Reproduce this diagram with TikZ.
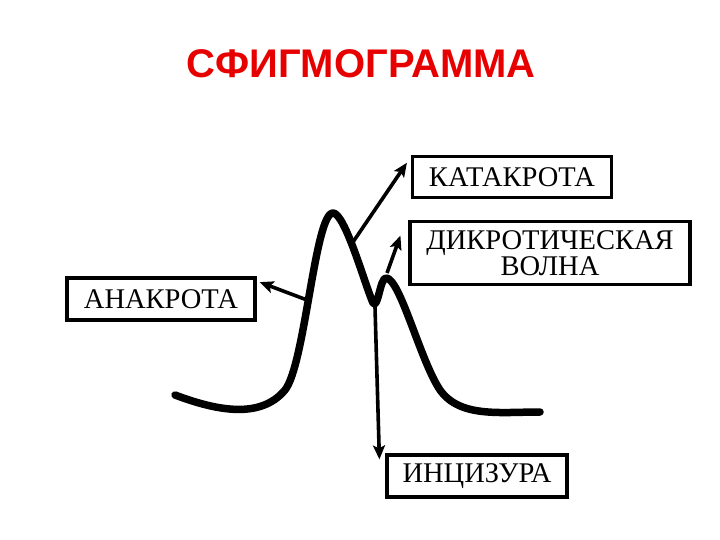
\documentclass[tikz,border=0pt]{standalone}
\usepackage{fontspec}
\setmainfont{Liberation Serif}
\newfontfamily\titlefont{Liberation Sans}
\usetikzlibrary{arrows.meta}
\definecolor{titlered}{RGB}{230,0,0}

\begin{document}
\begin{tikzpicture}[x=1pt,y=-1pt,
    >={Stealth[length=14pt,width=12pt,inset=3pt]},
    termbox/.style={draw, line width=3.2pt, inner sep=0pt, align=center,
      font=\fontsize{28.5}{26}\selectfont},
    pointer/.style={->, line width=3.6pt}]

  \useasboundingbox (0,0) rectangle (720,540);

  % Title
  \node[titlered, font=\titlefont\bfseries\fontsize{40}{40}\selectfont]
      (title) at (361,64) {СФИГМОГРАММА};

  % Pulse curve
  \draw[line width=7.5pt, line cap=round, line join=round]
      (175,395) .. controls (215,410) and (260,420) .. (285,390)
      .. controls (305,365) and (315,213) .. (333,213)
      .. controls (345,213) and (365,285) .. (373,303)
      .. controls (378,310) and (380,278) .. (386,278)
      .. controls (400,278) and (420,360) .. (440,390)
      .. controls (460,418) and (500,412) .. (540,412);

  % Points on the curve
  \coordinate (anaPt)  at (307,300);
  \coordinate (kataPt) at (353,242);
  \coordinate (dikPt)  at (387,273);
  \coordinate (incPt)  at (375,307);

  % Labels
  \node[termbox, minimum width=199pt, minimum height=41pt]
      (katakrota) at (512,177) {КАТАКРОТА};
  \node[termbox, minimum width=280pt, minimum height=63pt]
      (dikrot) at (550,253) {ДИКРОТИЧЕСКАЯ\\ВОЛНА};
  \node[termbox, minimum width=188pt, minimum height=42pt]
      (anakrota) at (161,299) {АНАКРОТА};
  \node[termbox, minimum width=180pt, minimum height=42pt]
      (incizura) at (477,476) {ИНЦИЗУРА};

  % Arrows
  \draw[pointer] (anaPt) -- ([xshift=3pt]anakrota.10);
  \draw[pointer] (kataPt) -- ([xshift=-4pt]katakrota.172);
  \draw[pointer] (dikPt) -- ([xshift=-8pt]dikrot.173);
  \draw[pointer] (incPt) -- ([xshift=-6pt,yshift=-6pt]incizura.north west);

\end{tikzpicture}
\end{document}
